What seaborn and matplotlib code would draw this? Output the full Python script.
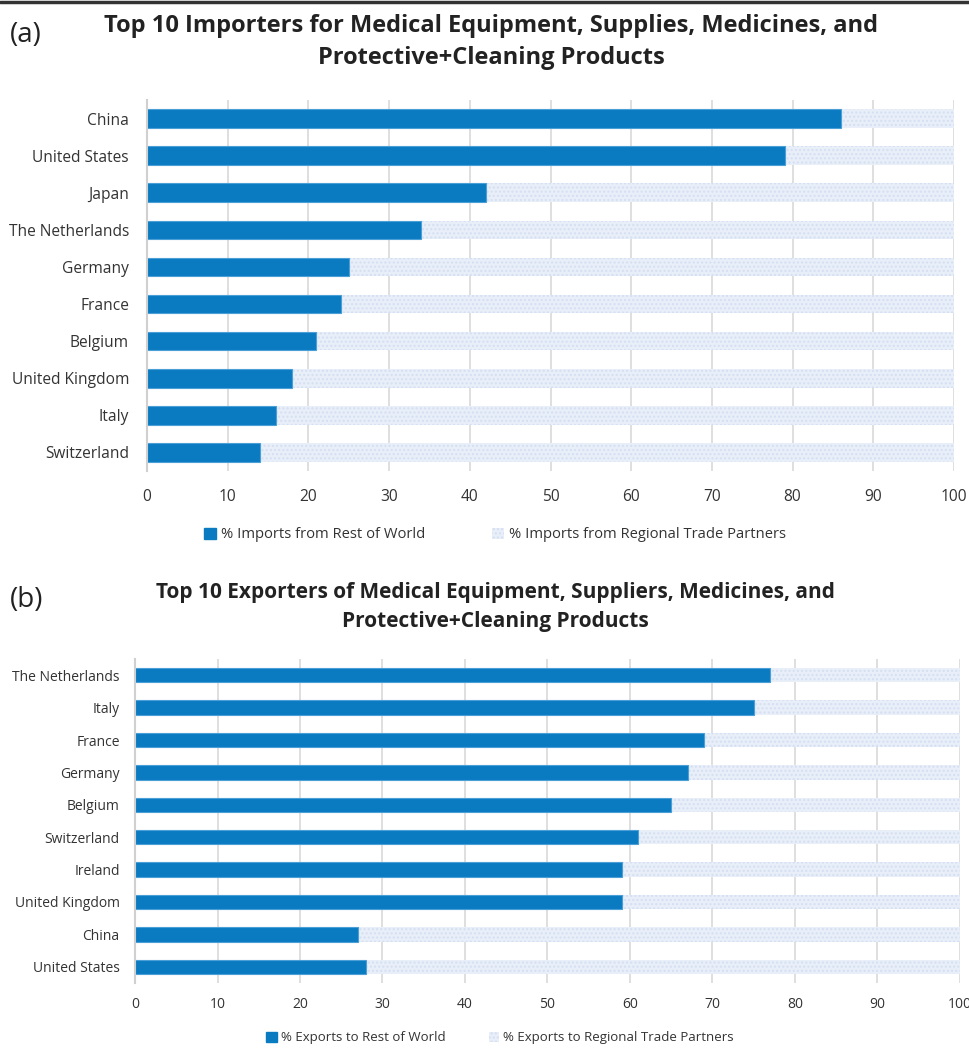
import matplotlib
matplotlib.use("Agg")
import matplotlib.pyplot as plt
import seaborn as sns
import pandas as pd
from matplotlib.patches import Patch
from matplotlib.lines import Line2D

# ---- data ----
imp_countries = ["China", "United States", "Japan", "The Netherlands", "Germany",
                 "France", "Belgium", "United Kingdom", "Italy", "Switzerland"]
imp_row = [86, 79, 42, 34, 25, 24, 21, 18, 16, 14]

exp_countries = ["The Netherlands", "Italy", "France", "Germany", "Belgium",
                 "Switzerland", "Ireland", "United Kingdom", "China", "United States"]
exp_row = [77, 75, 69, 67, 65, 61, 59, 59, 27, 28]

xticks = list(range(0, 101, 10))

title_a = "Top 10 Importers for Medical Equipment, Supplies, Medicines, and\nProtective+Cleaning Products"
title_b = "Top 10 Exporters of Medical Equipment, Suppliers, Medicines, and\nProtective+Cleaning Products"
leg_a = ["% Imports from Rest of World", "% Imports from Regional Trade Partners"]
leg_b = ["% Exports to Rest of World", "% Exports to Regional Trade Partners"]

DARK = "#0a7bc1"
LIGHT = "#e9eff9"
HATCHC = "#d4dff2"

sns.set_theme(style="white")
plt.rcParams["font.family"] = ["Open Sans", "DejaVu Sans"]
plt.rcParams["hatch.linewidth"] = 1.0

fig = plt.figure(figsize=(9.69, 10.48), dpi=100)

def panel(rect, countries, row, width, fs, ypad, xpad, legend_labels, leg_x, leg_y,
          leg_fs, colsp):
    ax = fig.add_axes(rect)
    df = pd.DataFrame({"country": countries, "row": row, "total": [100] * len(row)})
    sns.barplot(data=df, y="country", x="total", orient="h", color=LIGHT,
                width=width, ax=ax, saturation=1, hatch="....", edgecolor=HATCHC, linewidth=0)
    sns.barplot(data=df, y="country", x="row", orient="h", color=DARK,
                width=width, ax=ax, saturation=1, edgecolor="#4a9fd6", linewidth=0.8)
    ax.set_xlim(0, 100)
    ax.set_xticks(xticks)
    ax.set_xlabel("")
    ax.set_ylabel("")
    ax.grid(axis="x", color="#d9d9d9", linewidth=1.2)
    ax.set_axisbelow(True)
    for s in ["top", "right", "bottom"]:
        ax.spines[s].set_visible(False)
    ax.spines["left"].set_color("#d0d0d0")
    ax.spines["left"].set_linewidth(1.5)
    ax.tick_params(axis="both", length=0, labelsize=fs, colors="#333333")
    ax.tick_params(axis="x", pad=xpad)
    ax.tick_params(axis="y", pad=ypad)
    handles = [Patch(facecolor=DARK, edgecolor=DARK),
               Patch(facecolor=LIGHT, edgecolor=HATCHC, hatch="....", linewidth=0)]
    fig.legend(handles, legend_labels, loc="center", bbox_to_anchor=(leg_x, leg_y),
               ncol=2, frameon=False, fontsize=leg_fs, handlelength=0.8, handleheight=0.8,
               handletextpad=0.3, columnspacing=colsp, labelcolor="#333333")
    return ax

ax1 = panel([147/969, 1 - 471/1048, 807/969, 371/1048], imp_countries, imp_row, 0.5,
            11.2, 13, 13, leg_a, 495/969, 1 - 535/1048, 10.6, 4.6)
ax2 = panel([135/969, 1 - 983/1048, 825/969, 324/1048], exp_countries, exp_row, 0.45,
            10, 11, 10, leg_b, 500/969, 1 - 1038/1048, 9.5, 3.3)

fig.text(0.507, 1 - 42/1048, title_a, ha="center", va="center", fontsize=17,
         fontweight="bold", color="#222222", linespacing=1.45)
fig.text(0.511, 1 - 607/1048, title_b, ha="center", va="center", fontsize=15,
         fontweight="bold", color="#222222", linespacing=1.45)
fig.text(0.01, 1 - 35/1048, "(a)", ha="left", va="center", fontsize=20, color="#222222")
fig.text(0.01, 1 - 600/1048, "(b)", ha="left", va="center", fontsize=20, color="#222222")

fig.add_artist(Line2D([0, 1], [1 - 1.5/1048, 1 - 1.5/1048], color="#333333", linewidth=2.5,
                      transform=fig.transFigure))

fig.savefig("out.png", dpi=100)
